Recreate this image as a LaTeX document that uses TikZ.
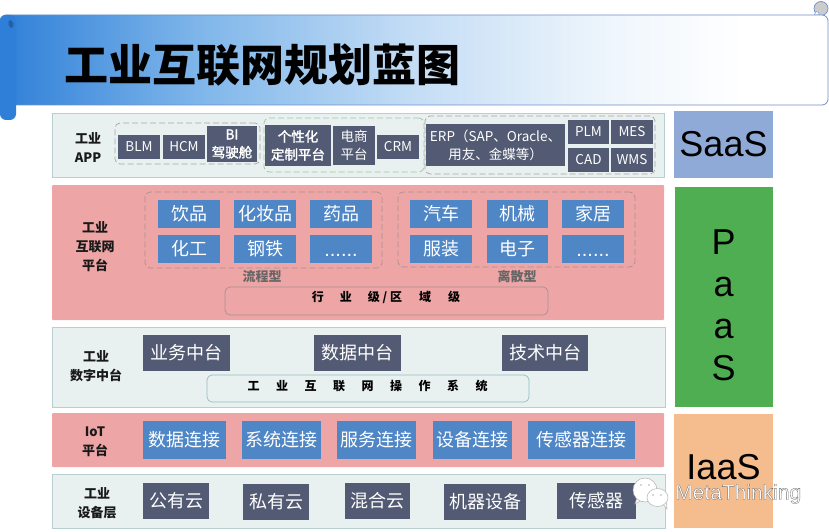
\documentclass[tikz,border=0pt]{standalone}
\usepackage{fontspec}
\usetikzlibrary{shapes.geometric}
\setmainfont{Noto Sans CJK SC}
\newfontfamily\latinfont{Liberation Sans}
\newfontfamily\semifont[FakeBold=2]{Noto Sans CJK SC}
\definecolor{slatebox}{HTML}{525B73}
\definecolor{bluebox}{HTML}{4F86C6}
\definecolor{panelgrey}{HTML}{E9F0F0}
\definecolor{panelline}{HTML}{B7CFD1}
\definecolor{panelred}{HTML}{EEA5A5}
\definecolor{bannerline}{HTML}{6F8FC8}
\definecolor{scrollblue}{HTML}{2F7FD8}
\definecolor{saascol}{HTML}{8FAAD6}
\definecolor{paascol}{HTML}{50AE52}
\definecolor{iaascol}{HTML}{F5BC8E}
\definecolor{bandA}{HTML}{7FB6EA}
\definecolor{bandB}{HTML}{C4DDF5}
\definecolor{bandC}{HTML}{EFF6FC}
\definecolor{redgroupline}{HTML}{A58F92}
\pgfdeclarehorizontalshading{bannershade}{100bp}{
  color(0bp)=(scrollblue); color(25bp)=(scrollblue);
  color(37bp)=(bandA); color(50bp)=(bandB);
  color(62bp)=(bandC); color(70bp)=(white); color(100bp)=(white)}
\tikzset{
  panelbase/.style={draw=panelline,line width=.8pt,fill=panelgrey,inner sep=0pt},
  panelpink/.style={fill=panelred,inner sep=0pt,rounded corners=1pt},
  slatecell/.style={fill=slatebox,text=white,inner sep=0pt,align=center,font=\fontsize{18}{22}\selectfont},
  slatesmall/.style={slatecell,font=\fontsize{13.5}{18}\selectfont},
  bluecell/.style={fill=bluebox,text=white,inner sep=0pt,align=center,font=\fontsize{18}{22}\selectfont},
  grp/.style={draw=#1,dashed,dash pattern=on 6pt off 3pt,line width=.7pt,rounded corners=5pt,inner sep=0pt},
  barbox/.style={draw=#1,line width=.7pt,rounded corners=5pt,inner sep=0pt,align=center,font=\fontsize{12}{14}\selectfont\bfseries},
  rowlabel/.style={align=center,inner sep=0pt,text=black!90,font=\fontsize{13}{19}\selectfont\bfseries},
  typelabel/.style={inner sep=0pt,text=black!60,font=\fontsize{13}{15}\selectfont\bfseries},
  layerbox/.style={inner sep=0pt},
  layertext/.style={inner sep=0pt,align=center,text=black,font=\latinfont\fontsize{36}{42}\selectfont},
  wmtext/.style={inner sep=0pt,anchor=west,font=\latinfont\fontsize{21}{24}\selectfont},
}
\newcommand{\rbox}[7][]{%
  \node[#2,#1,minimum width={(#5-#3)*1pt},minimum height={(#6-#4)*1pt}] (#7) at ({(#3+#5)/2},{(#4+#6)/2})}
\newcommand{\latindots}{{\latinfont\fontsize{20}{22}\selectfont\rule{0pt}{14pt}......}}
\begin{document}
\begin{tikzpicture}[x=1pt,y=-1pt]
\useasboundingbox (0,0) rectangle (829,532);
% corner curl (behind banner)
\node[circle,fill=gray!40,draw=bannerline,line width=.7pt,inner sep=0pt,minimum size=14pt] (curl) at (821,8.5) {};
\fill[white,draw=bannerline,line width=.5pt] (814.5,15) .. controls (814.5,10.5) and (819,10.5) .. (819.5,15) -- cycle;
% banner
\node[shade,shading=bannershade,draw=bannerline,line width=.8pt,rounded corners=6pt,inner sep=0pt,minimum width=828pt,minimum height=90pt] (banner) at (414,60) {};
\node[fill=scrollblue,rounded corners=6pt,inner sep=0pt,minimum width=16pt,minimum height=105pt] (scroll) at (8,67.5) {};
\node[fill=black!40!scrollblue,opacity=.6,ellipse,inner sep=0pt,minimum width=5pt,minimum height=8pt,rotate=15] (smudge) at (11,24) {};
\node[inner sep=0pt,font=\fontsize{44}{48}\selectfont\bfseries,text=black] (title) at (262,65) {工业互联网规划蓝图};
% panels
\rbox{panelbase}{52}{113}{664}{177}{appPanel} {};
\rbox{panelpink}{52}{185}{664}{320}{platPanel} {};
\rbox{panelbase}{52}{327}{665}{407}{digiPanel} {};
\rbox{panelpink}{52}{413}{664}{467}{iotPanel} {};
\rbox{panelbase}{52}{474}{665}{528}{devPanel} {};
% layer boxes
\rbox[fill=saascol]{layerbox}{674}{111}{773}{178}{saas} {};
\rbox[fill=paascol]{layerbox}{675}{187}{773}{407}{paas} {};
\rbox[fill=iaascol]{layerbox}{674}{414}{773}{528}{iaas} {};
\node[layertext] (saasText) at (723.5,144.5) {SaaS};
\node[layertext] (paasText) at (723.5,305) {P\\a\\a\\S};
\node[layertext] (iaasText) at (723.5,467) {IaaS};
% row labels
\node[rowlabel] (lblApp) at (88,148) {工业\\APP};
\node[rowlabel] (lblPlat) at (95,247) {工业\\互联网\\平台};
\node[rowlabel] (lblDigi) at (96,366) {工业\\数字中台};
\node[rowlabel] (lblIot) at (95,442) {IoT\\平台};
\node[rowlabel] (lblDev) at (97,503) {工业\\设备层};
% app groups
\rbox{grp=gray!70}{115}{123}{260}{164}{grpA} {};
\rbox{grp=green!30!gray!60}{264}{118}{424}{172}{grpB} {};
\rbox{grp=gray!70}{425}{116}{655}{174}{grpC} {};
\rbox{slatesmall}{118}{135}{160}{159}{blm} {BLM};
\rbox{slatesmall}{163}{135}{205}{159}{hcm} {HCM};
\rbox{slatesmall}{207}{126}{257}{162}{bi} {\semifont BI\\\semifont 驾驶舱};
\rbox{slatesmall}{265}{125}{331}{166}{custom} {\semifont 个性化\\\semifont 定制平台};
\rbox{slatesmall}{333}{126}{375}{165}{ecom} {电商\\平台};
\rbox{slatesmall}{377}{135}{419}{159}{crm} {CRM};
\rbox{slatesmall}{426}{124}{565}{166}{erp} {ERP（SAP、Oracle、\\用友、金蝶等）};
\rbox{slatesmall}{568}{120}{609}{144}{plm} {PLM};
\rbox{slatesmall}{611}{120}{653}{144}{mes} {MES};
\rbox{slatesmall}{568}{148}{609}{172}{cad} {CAD};
\rbox{slatesmall}{611}{148}{653}{172}{wms} {WMS};
% platform
\rbox{grp=redgroupline}{145}{192}{382}{268}{grpFlow} {};
\rbox{grp=redgroupline}{398}{192}{635}{267}{grpDisc} {};
\rbox{bluecell}{158}{200}{220}{228}{yp} {饮品};
\rbox{bluecell}{234}{200}{296}{228}{hzp} {化妆品};
\rbox{bluecell}{310}{200}{372}{228}{ypin} {药品};
\rbox{bluecell}{158}{235}{220}{263}{hg} {化工};
\rbox{bluecell}{234}{235}{296}{263}{gt} {钢铁};
\rbox{bluecell}{310}{235}{372}{263}{more} {\latindots};
\rbox{bluecell}{410}{200}{472}{228}{qc} {汽车};
\rbox{bluecell}{487}{200}{548}{228}{jx} {机械};
\rbox{bluecell}{562}{200}{624}{228}{jj} {家居};
\rbox{bluecell}{410}{235}{472}{263}{fz} {服装};
\rbox{bluecell}{487}{235}{548}{263}{dz} {电子};
\rbox{bluecell}{562}{235}{624}{263}{moreb} {\latindots};
\node[typelabel] (flowLbl) at (262,277) {流程型};
\node[typelabel] (discLbl) at (517,277) {离散型};
\rbox{barbox=redgroupline}{225}{287}{548}{315}{hybar} {};
\node[inner sep=0pt,font=\fontsize{12}{14}\selectfont\bfseries] (hytext) at (386,297) {行\hspace{16pt}业\hspace{16pt}级 / 区\hspace{17pt}域\hspace{17pt}级};
% digital
\rbox{slatecell}{143}{335}{230}{371}{ywzt} {业务中台};
\rbox{slatecell}{314}{335}{401}{371}{sjzt} {数据中台};
\rbox{slatecell}{502}{335}{588}{371}{jszt} {技术中台};
\rbox{barbox=panelline!80!teal}{207}{375}{529}{402}{osbar} {};
\node[inner sep=0pt,font=\fontsize{12}{14}\selectfont\bfseries] (ostext) at (367.5,386) {工\hspace{16.5pt}业\hspace{16.5pt}互\hspace{16.5pt}联\hspace{16.5pt}网\hspace{16.5pt}操\hspace{16.5pt}作\hspace{16.5pt}系\hspace{16.5pt}统};
% iot
\rbox{bluecell}{143}{421}{226}{459}{c1} {数据连接};
\rbox{bluecell}{242}{421}{321}{459}{c2} {系统连接};
\rbox{bluecell}{337}{421}{416}{459}{c3} {服务连接};
\rbox{bluecell}{433}{421}{512}{459}{c4} {设备连接};
\rbox{bluecell}{528}{421}{635}{459}{c5} {传感器连接};
% devices
\rbox{slatecell}{143}{483}{209}{519}{d1} {公有云};
\rbox{slatecell}{243}{484}{309}{520}{d2} {私有云};
\rbox{slatecell}{345}{483}{410}{519}{d3} {混合云};
\rbox{slatecell}{444}{484}{526}{520}{d4} {机器设备};
\rbox{slatecell}{557}{483}{636}{519}{d5} {传感器};
% watermark
\fill[white,draw=gray!60,line width=.5pt] (637,498) -- (635,504) -- (642,500) -- cycle;
\fill[white,draw=gray!60,line width=.5pt] (645,490) ellipse (12 and 12);
\fill[white,draw=gray!60,line width=.5pt] (662,503) -- (667,509) -- (666,501) -- cycle;
\fill[white,draw=gray!60,line width=.5pt] (657.5,497.5) ellipse (10.5 and 9);
\fill[gray!60] (641,485) circle (.9) (649,485) circle (.9) (653,495) circle (.8) (661,495) circle (.8);
\node[wmtext,text=white] (wm) at (675,494) {\special{pdf:literal 2 Tr 0.35 w 0.45 G}MetaThinking\special{pdf:literal 0 Tr}};
\end{tikzpicture}
\end{document}
